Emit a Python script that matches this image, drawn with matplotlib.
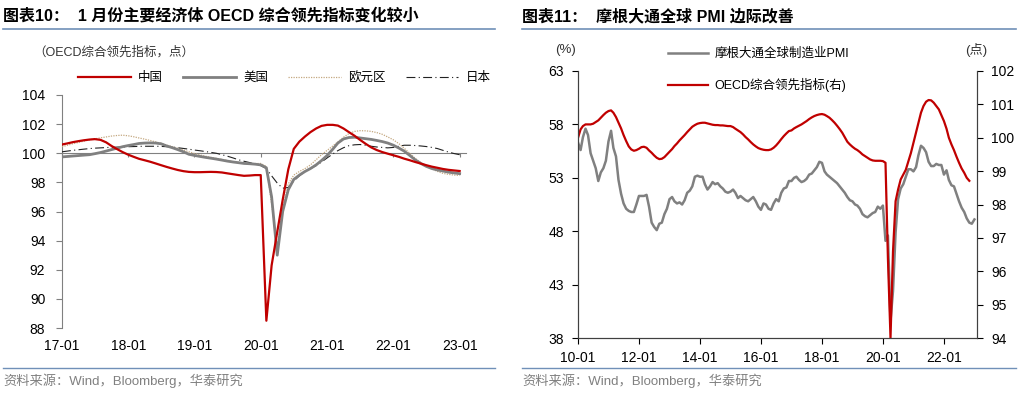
import matplotlib
matplotlib.use('Agg')
import pandas as pd
import matplotlib.pyplot as plt
import matplotlib.dates as mdates
from matplotlib.lines import Line2D

plt.rcParams['font.family'] = ['Liberation Sans', 'Noto Sans CJK SC', 'DejaVu Sans']
plt.rcParams['axes.unicode_minus'] = False

# ---- 图表10 数据 (2017-01 ~ 2023-01, 月度) ----
dates_l = pd.date_range('2017-01-01', '2023-01-01', freq='MS')
china = [100.60, 100.68, 100.76, 100.83, 100.89, 100.94, 100.97, 100.92, 100.75, 100.50, 100.28, 100.08,
         99.90, 99.75, 99.62, 99.52, 99.42, 99.30, 99.18, 99.06, 98.95, 98.85, 98.77, 98.72,
         98.70, 98.70, 98.71, 98.72, 98.71, 98.68, 98.62, 98.56, 98.50, 98.45, 98.47, 98.50,
         98.50, 88.50, 92.30, 94.60, 96.80, 98.90, 100.30, 100.80, 101.15, 101.45, 101.70, 101.88,
         101.95, 101.95, 101.90, 101.70, 101.45, 101.20, 100.92, 100.65, 100.40, 100.22, 100.08, 99.97,
         99.86, 99.75, 99.63, 99.52, 99.40, 99.29, 99.18, 99.08, 99.00, 98.92, 98.86, 98.82,
         98.78]
usa = [99.75, 99.78, 99.81, 99.84, 99.87, 99.90, 99.97, 100.05, 100.15, 100.25, 100.35, 100.45,
       100.53, 100.60, 100.67, 100.70, 100.71, 100.70, 100.65, 100.50, 100.38, 100.25, 100.10, 99.93,
       99.85, 99.78, 99.72, 99.66, 99.60, 99.53, 99.46, 99.40, 99.35, 99.30, 99.28, 99.25,
       99.20, 99.00, 97.00, 93.00, 96.00, 97.50, 98.20, 98.50, 98.75, 98.95, 99.20, 99.50,
       99.85, 100.28, 100.70, 100.98, 101.08, 101.10, 101.05, 101.00, 100.95, 100.88, 100.80, 100.70,
       100.55, 100.35, 100.15, 99.85, 99.55, 99.30, 99.10, 98.95, 98.85, 98.78, 98.70, 98.65,
       98.60]
euro = [100.45, 100.55, 100.65, 100.74, 100.83, 100.92, 100.99, 101.06, 101.12, 101.18, 101.22, 101.24,
        101.20, 101.13, 101.05, 100.97, 100.88, 100.78, 100.68, 100.56, 100.45, 100.34, 100.22, 100.10,
        99.98, 99.88, 99.80, 99.72, 99.65, 99.58, 99.50, 99.43, 99.38, 99.33, 99.30, 99.29,
        99.30, 99.10, 96.50, 93.50, 96.20, 97.90, 98.50, 98.75, 98.95, 99.20, 99.55, 99.90,
        100.20, 100.50, 100.78, 101.10, 101.35, 101.50, 101.55, 101.54, 101.50, 101.42, 101.30, 101.12,
        100.92, 100.65, 100.35, 100.00, 99.65, 99.35, 99.10, 98.92, 98.75, 98.62, 98.55, 98.50,
        98.48]
japan = [100.10, 100.15, 100.20, 100.24, 100.28, 100.32, 100.35, 100.37, 100.39, 100.41, 100.42, 100.43,
         100.45, 100.46, 100.47, 100.48, 100.48, 100.48, 100.47, 100.45, 100.42, 100.38, 100.33, 100.28,
         100.22, 100.17, 100.12, 100.06, 100.00, 99.90, 99.80, 99.68, 99.55, 99.45, 99.36, 99.25,
         99.15, 98.95, 98.45, 97.95, 97.60, 97.65, 98.10, 98.45, 98.75, 98.95, 99.15, 99.40,
         99.68, 99.95, 100.18, 100.38, 100.52, 100.58, 100.60, 100.55, 100.48, 100.43, 100.40, 100.37,
         100.40, 100.48, 100.55, 100.55, 100.53, 100.50, 100.46, 100.40, 100.32, 100.20, 100.08, 99.98,
         99.90]

# ---- 图表11 数据 ----
dates_pmi = pd.date_range('2010-01-01', '2023-01-01', freq='MS')
pmi = [56.3, 55.6, 56.8, 57.6, 57.0, 55.3, 54.6, 53.9, 52.7, 53.5, 53.9, 54.6,
       56.4, 57.4, 55.8, 55.0, 52.8, 51.5, 50.6, 50.1, 49.9, 49.8, 49.8, 50.5,
       51.3, 51.3, 51.3, 51.4, 50.3, 48.8, 48.4, 48.1, 48.7, 48.8, 49.6, 50.1,
       51.0, 51.2, 50.8, 50.6, 50.7, 50.5, 50.9, 51.6, 51.8, 52.2, 53.1, 53.2,
       53.1, 53.1, 52.4, 51.9, 52.2, 52.6, 52.4, 52.5, 52.2, 52.0, 51.7, 51.6,
       51.7, 51.9, 51.6, 51.1, 51.3, 51.1, 50.9, 50.8, 51.0, 51.2, 50.8, 50.3,
       50.0, 50.6, 50.5, 50.1, 50.0, 50.6, 51.0, 50.8, 51.6, 52.0, 52.1, 52.7,
       52.7, 53.0, 53.1, 52.8, 52.6, 52.7, 52.9, 53.3, 53.4, 53.7, 54.0, 54.5,
       54.4, 53.6, 53.3, 53.1, 52.9, 52.7, 52.5, 52.2, 51.9, 51.6, 51.2, 50.9,
       50.8, 50.5, 50.4, 50.1, 49.6, 49.4, 49.3, 49.5, 49.7, 49.8, 50.3, 50.1,
       50.4, 47.1, 47.6, 39.6, 42.4, 47.9, 51.0, 52.0, 52.4, 53.1, 53.8, 53.8,
       53.6, 54.0, 55.1, 56.0, 55.8, 55.4, 54.5, 54.1, 54.1, 54.3, 54.2, 54.2,
       53.3, 53.7, 52.8, 52.3, 52.2, 51.5, 50.8, 50.2, 49.8, 49.2, 48.8, 48.7,
       49.1]
dates_cli = pd.date_range('2010-01-01', '2022-11-01', freq='MS')
cli = [100.00, 100.25, 100.35, 100.40, 100.40, 100.40, 100.42, 100.47, 100.52, 100.60, 100.68, 100.75,
       100.80, 100.82, 100.75, 100.62, 100.45, 100.28, 100.08, 99.90, 99.74, 99.65, 99.61, 99.63,
       99.67, 99.72, 99.73, 99.70, 99.62, 99.55, 99.47, 99.40, 99.36, 99.37, 99.42, 99.50,
       99.58, 99.66, 99.75, 99.83, 99.92, 100.00, 100.08, 100.17, 100.25, 100.33, 100.38, 100.42,
       100.44, 100.45, 100.45, 100.43, 100.41, 100.39, 100.38, 100.38, 100.37, 100.37, 100.36, 100.35,
       100.35, 100.32, 100.27, 100.22, 100.17, 100.10, 100.02, 99.95, 99.87, 99.80, 99.74, 99.69,
       99.66, 99.64, 99.63, 99.63, 99.65, 99.70, 99.77, 99.86, 99.96, 100.05, 100.13, 100.20,
       100.22, 100.28, 100.32, 100.36, 100.40, 100.45, 100.50, 100.56, 100.61, 100.65, 100.68, 100.70,
       100.71, 100.69, 100.65, 100.60, 100.53, 100.45, 100.36, 100.26, 100.15, 100.02, 99.88, 99.80,
       99.73, 99.67, 99.63, 99.57, 99.50, 99.45, 99.40, 99.35, 99.32, 99.31, 99.31, 99.31,
       99.30, 99.25, 96.40, 94.00, 96.60, 98.10, 98.45, 98.75, 98.90, 99.04, 99.30, 99.54,
       99.85, 100.15, 100.45, 100.75, 100.95, 101.08, 101.13, 101.12, 101.05, 100.95, 100.85, 100.68,
       100.50, 100.27, 100.00, 99.80, 99.63, 99.43, 99.25, 99.08, 98.95, 98.80, 98.71]

RED = '#c00000'
GRAY = '#808080'
BLUE = '#7090b8'
W, H = 1036, 399

fig = plt.figure(figsize=(W / 100, H / 100), dpi=100)

def fx(px):
    return px / W

def fy(py):
    return 1 - py / H

# 标题、分隔线、资料来源
fig.text(fx(3), fy(16), '图表10：  1 月份主要经济体 OECD 综合领先指标变化较小', fontsize=11.5,
         fontweight='bold', va='center', ha='left')
fig.text(fx(522), fy(16), '图表11：  摩根大通全球 PMI 边际改善', fontsize=11.5,
         fontweight='bold', va='center', ha='left')
for x0, x1 in [(3, 495), (522, 1016)]:
    fig.add_artist(Line2D([fx(x0), fx(x1)], [fy(29), fy(29)], color=BLUE, lw=1.2))
    fig.add_artist(Line2D([fx(x0), fx(x1)], [fy(368), fy(368)], color=BLUE, lw=1.0))
fig.text(fx(3), fy(381), '资料来源：Wind，Bloomberg，华泰研究', fontsize=9.5, color='#808080', va='center')
fig.text(fx(522), fy(381), '资料来源：Wind，Bloomberg，华泰研究', fontsize=9.5, color='#808080', va='center')

# ---------------- 图表10 ----------------
ax = fig.add_axes([fx(62), fy(328), fx(466 - 62), fy(95) - fy(328)])
l1, = ax.plot(dates_l, china, color=RED, lw=1.6, label='中国', zorder=5)
l2, = ax.plot(dates_l, usa, color=GRAY, lw=2.0, label='美国', zorder=4)
l3, = ax.plot(dates_l, euro, color='#c4a880', lw=0.9, ls=(0, (1, 1)), label='欧元区', zorder=3)
l4, = ax.plot(dates_l, japan, color='#222222', lw=0.8, ls=(0, (8, 3, 1, 3)), label='日本', zorder=3)
ax.set_ylim(88, 104)
ax.set_yticks(range(88, 105, 2))
ax.set_xlim(pd.Timestamp('2017-01-01'), pd.Timestamp('2023-02-05'))
ax.spines['top'].set_visible(False)
ax.spines['right'].set_visible(False)
ax.spines['left'].set_color('#808080')
ax.spines['bottom'].set_position(('data', 100))
ax.spines['bottom'].set_color('#808080')
ax.xaxis.set_major_locator(mdates.YearLocator(month=1))
ax.tick_params(axis='x', direction='out', length=3, color='#808080', labelbottom=False)
ax.tick_params(axis='y', direction='out', length=4, color='#808080', labelsize=10, pad=8)
sec = ax.secondary_xaxis(0)
sec.xaxis.set_major_locator(mdates.YearLocator(month=1))
sec.xaxis.set_major_formatter(mdates.DateFormatter('%y-%m'))
sec.spines['bottom'].set_visible(False)
sec.tick_params(length=0, labelsize=10, pad=8)

fig.text(fx(33), fy(52), '（OECD综合领先指标，点）', fontsize=9, color='#333333', va='center')
fig.legend(handles=[l1, l2, l3, l4], loc='center left', bbox_to_anchor=(fx(78), fy(78)),
           ncol=4, frameon=False, fontsize=9, handlelength=4.2, handletextpad=0.6,
           columnspacing=1.6, borderpad=0, borderaxespad=0)

# ---------------- 图表11 ----------------
ax2 = fig.add_axes([fx(578), fy(338), fx(977 - 578), fy(71) - fy(338)])
g, = ax2.plot(dates_pmi, pmi, color=GRAY, lw=1.8, label='摩根大通全球制造业PMI')
ax2.set_ylim(38, 63)
ax2.set_yticks(range(38, 64, 5))
ax2.set_xlim(pd.Timestamp('2010-01-01'), pd.Timestamp('2023-02-01'))
ax2.xaxis.set_major_locator(mdates.YearLocator(base=2, month=1))
ax2.xaxis.set_major_formatter(mdates.DateFormatter('%y-%m'))
ax2.spines['top'].set_visible(False)
for s in ['left', 'bottom', 'right']:
    ax2.spines[s].set_color('#404040')
ax2.tick_params(axis='x', direction='out', length=4, labelsize=10, pad=5)
ax2.tick_params(axis='y', direction='out', length=4, labelsize=10, pad=6)

ax3 = ax2.twinx()
r, = ax3.plot(dates_cli, cli, color=RED, lw=1.6, label='OECD综合领先指标(右)')
ax3.set_ylim(94, 102)
ax3.set_yticks(range(94, 103))
ax3.spines['top'].set_visible(False)
for s in ['left', 'bottom', 'right']:
    ax3.spines[s].set_color('#404040')
ax3.tick_params(axis='y', direction='out', length=4, labelsize=10, pad=6)

fig.text(fx(565), fy(50), '(%)', fontsize=9.5, ha='center', va='center', color='#333333')
fig.text(fx(976), fy(50), '(点)', fontsize=9.5, ha='center', va='center', color='#333333')
fig.legend(handles=[g, r], loc='upper left', bbox_to_anchor=(fx(668), fy(48)),
           ncol=1, frameon=False, fontsize=9, handlelength=3.2, handletextpad=0.5,
           labelspacing=1.45, borderpad=0, borderaxespad=0)

fig.savefig('out.png', dpi=100)
